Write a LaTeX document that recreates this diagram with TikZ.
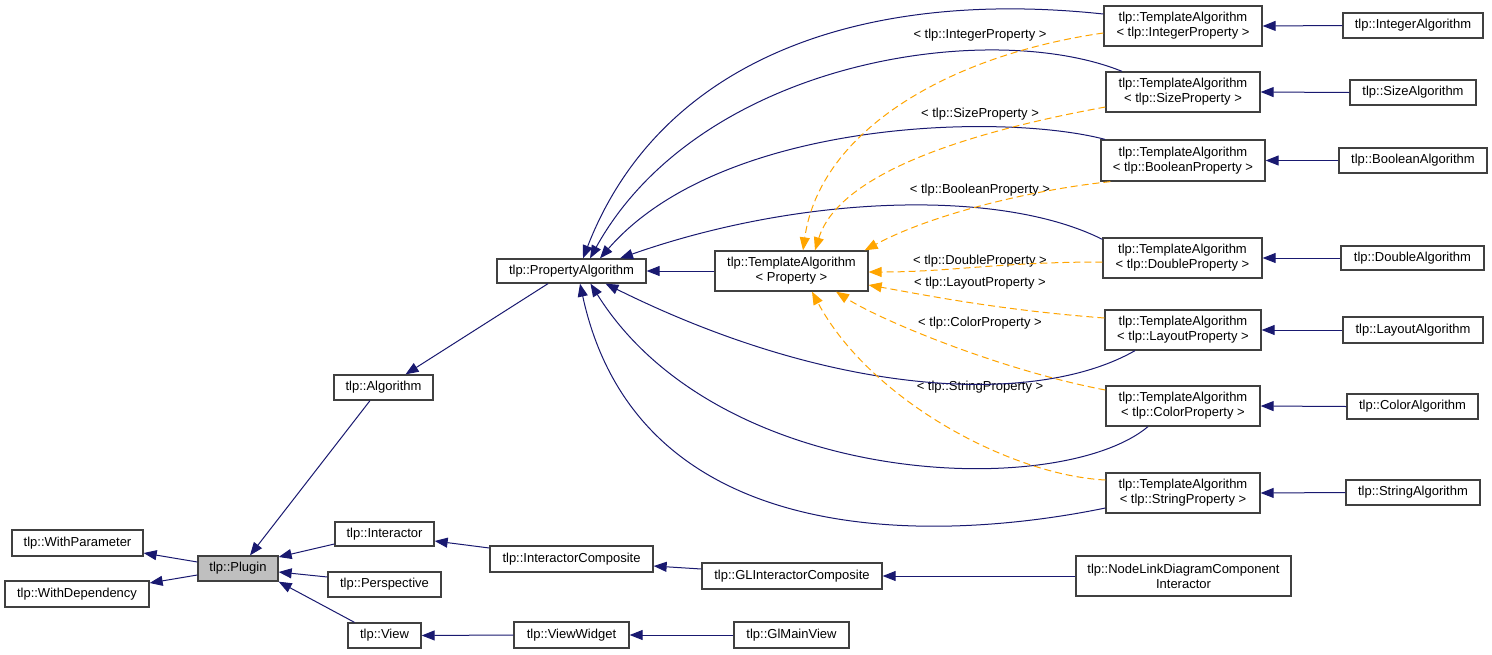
\documentclass[tikz,border=0pt]{standalone}
\usepackage{fontspec}
\setmainfont{Liberation Sans}
\usetikzlibrary{arrows.meta,calc}
\definecolor{edgeblue}{HTML}{191970}
\definecolor{edgeorange}{HTML}{FFA500}
\definecolor{plugingray}{HTML}{BFBFBF}
\definecolor{boxline}{HTML}{404040}
\begin{document}
\begin{tikzpicture}[x=1pt,y=-1pt,
  font=\fontsize{13}{15}\selectfont,
  box/.style={draw=boxline, line width=1.3pt, rectangle, inner sep=0pt, align=center, fill=white},
  lbl/.style={inner sep=0pt, align=center},
  inh/.style={draw=edgeblue, line width=1pt, -{Triangle[length=13pt,width=10pt]}},
  tpl/.style={draw=edgeorange, line width=1pt, dash pattern=on 7pt off 4pt, -{Triangle[length=13pt,width=10pt]}}]
\useasboundingbox (0,0) rectangle (1492,654);
\fill[white] (0,0) rectangle (1492,654);
% nodes
\node[box, minimum width=131pt, minimum height=26pt] (wp) at (77.5,543) {tlp::WithParameter};
\node[box, minimum width=144pt, minimum height=26pt] (wd) at (77,594) {tlp::WithDependency};
\node[box, fill=plugingray, minimum width=80pt, minimum height=25pt] (plugin) at (238,568.5) {tlp::Plugin};
\node[box, minimum width=99pt, minimum height=24pt] (inter) at (384.5,534) {tlp::Interactor};
\node[box, minimum width=113pt, minimum height=25pt] (persp) at (384.5,584.5) {tlp::Perspective};
\node[box, minimum width=73pt, minimum height=25pt] (view) at (384.5,635.5) {tlp::View};
\node[box, minimum width=99pt, minimum height=25pt] (algo) at (383.5,387.5) {tlp::Algorithm};
\node[box, minimum width=149pt, minimum height=24pt] (pa) at (571.5,271) {tlp::PropertyAlgorithm};
\node[box, minimum width=153pt, minimum height=40pt] (tap) at (791.5,271) {tlp::TemplateAlgorithm\\< Property >};
\node[box, minimum width=158pt, minimum height=40pt] (tai) at (1183,26) {tlp::TemplateAlgorithm\\< tlp::IntegerProperty >};
\node[box, minimum width=140pt, minimum height=25pt] (ia) at (1413,25.5) {tlp::IntegerAlgorithm};
\node[box, minimum width=154pt, minimum height=40pt] (tas) at (1183,92) {tlp::TemplateAlgorithm\\< tlp::SizeProperty >};
\node[box, minimum width=126pt, minimum height=25pt] (sa) at (1413,92.5) {tlp::SizeAlgorithm};
\node[box, minimum width=164pt, minimum height=41pt] (tab) at (1183,160.5) {tlp::TemplateAlgorithm\\< tlp::BooleanProperty >};
\node[box, minimum width=148pt, minimum height=25pt] (ba) at (1413,160.5) {tlp::BooleanAlgorithm};
\node[box, minimum width=159pt, minimum height=40pt] (tad) at (1182.5,258) {tlp::TemplateAlgorithm\\< tlp::DoubleProperty >};
\node[box, minimum width=143pt, minimum height=24pt] (da) at (1412.5,258) {tlp::DoubleAlgorithm};
\node[box, minimum width=156pt, minimum height=40pt] (tal) at (1183,330) {tlp::TemplateAlgorithm\\< tlp::LayoutProperty >};
\node[box, minimum width=140pt, minimum height=26pt] (la) at (1413,330) {tlp::LayoutAlgorithm};
\node[box, minimum width=154pt, minimum height=40pt] (tac) at (1183,406) {tlp::TemplateAlgorithm\\< tlp::ColorProperty >};
\node[box, minimum width=131pt, minimum height=25pt] (ca) at (1412.5,406.5) {tlp::ColorAlgorithm};
\node[box, minimum width=154pt, minimum height=40pt] (tast) at (1183,493) {tlp::TemplateAlgorithm\\< tlp::StringProperty >};
\node[box, minimum width=134pt, minimum height=25pt] (sta) at (1413,492.5) {tlp::StringAlgorithm};
\node[box, minimum width=163pt, minimum height=26pt] (ic) at (571.5,559) {tlp::InteractorComposite};
\node[box, minimum width=180pt, minimum height=26pt] (glic) at (792,576) {tlp::GLInteractorComposite};
\node[box, minimum width=115pt, minimum height=26pt] (vw) at (571.5,635) {tlp::ViewWidget};
\node[box, minimum width=115pt, minimum height=26pt] (gmv) at (791.5,635) {tlp::GlMainView};
\node[box, minimum width=215pt, minimum height=40pt] (nl) at (1183.5,576) {tlp::NodeLinkDiagramComponent\\Interactor};
% labels
\node[lbl] (lint) at (980,35) {< tlp::IntegerProperty >};
\node[lbl] (lsize) at (980,114) {< tlp::SizeProperty >};
\node[lbl] (lbool) at (980,190) {< tlp::BooleanProperty >};
\node[lbl] (ldbl) at (980,261) {< tlp::DoubleProperty >};
\node[lbl] (llay) at (980,283) {< tlp::LayoutProperty >};
\node[lbl] (lcol) at (980,323) {< tlp::ColorProperty >};
\node[lbl] (lstr) at (980,387) {< tlp::StringProperty >};
% blue curves TA<X> -> PropertyAlgorithm
\draw[inh] ([yshift=12pt]tai.west) .. controls (860,-12) and (660,60) .. ([xshift=11.5pt]pa.north);
\draw[inh] ([xshift=-61pt]tas.north) .. controls (990,18) and (700,60) .. ([xshift=18.5pt]pa.north);
\draw[inh] ([xshift=-78pt]tab.north) .. controls (1000,112) and (720,120) .. ([xshift=28.5pt]pa.north);
\draw[inh] ([yshift=-2pt]tad.north west) .. controls (1000,188) and (800,195) .. ([xshift=48.5pt]pa.north);
\draw[inh] ([xshift=-48pt]tal.south) .. controls (1040,405) and (840,400) .. ([xshift=34pt]pa.south);
\draw[inh] ([xshift=-35pt]tac.south) .. controls (1060,500) and (720,490) .. ([xshift=19pt]pa.south);
\draw[inh] ([yshift=-15pt]tast.west) .. controls (950,540) and (640,560) .. ([xshift=8.5pt]pa.south);
% orange dashed TA<X> -> TA<Property>
\draw[tpl] ([yshift=-7pt]tai.west) .. controls (950,55) and (820,130) .. ([xshift=11.5pt]tap.north);
\draw[tpl] ([yshift=-15pt]tas.west) .. controls (980,130) and (840,170) .. ([xshift=23.5pt]tap.north);
\draw[tpl] ([xshift=10pt]tab.south west) .. controls (1030,190) and (930,215) .. ([xshift=-4pt]tap.north east);
\draw[tpl] ([yshift=-4pt]tad.west) .. controls (1000,262) and (950,272) .. ([yshift=-1pt]tap.east);
\draw[tpl] ([yshift=12pt]tal.west) .. controls (1000,310) and (930,296) .. ([yshift=-14pt]tap.east);
\draw[tpl] ([yshift=16pt]tac.west) .. controls (1000,370) and (880,320) .. ([xshift=44.5pt]tap.south);
\draw[tpl] ([yshift=13pt]tast.west) .. controls (1010,475) and (870,400) .. ([xshift=20.5pt]tap.south);
% straight edges
\draw[inh] (tap.west) -- (pa.east);
\draw[inh] ([xshift=-23.5pt]pa.south) -- ([xshift=22pt]algo.north);
\draw[inh] ([xshift=-13.5pt]algo.south) -- ([xshift=12pt]plugin.north);
\draw[inh] ([yshift=6.5pt]plugin.west) -- ([yshift=-10pt]wp.east);
\draw[inh] ([yshift=-6.5pt]plugin.west) -- ([yshift=11pt]wd.east);
\draw[inh] ([yshift=-10pt]inter.west) -- ([yshift=11.5pt]plugin.east);
\draw[inh] ([yshift=7.5pt]persp.west) -- ([yshift=-3.5pt]plugin.east);
\draw[inh] ([xshift=-30pt]view.north) -- (plugin.south east);
\draw[inh] ([yshift=11pt]ic.west) -- ([yshift=-7pt]inter.east);
\draw[inh] ([yshift=7pt]glic.west) -- ([yshift=-7pt]ic.east);
\draw[inh] (nl.west) -- (glic.east);
\draw[inh] (vw.west) -- (view.east);
\draw[inh] (gmv.west) -- (vw.east);
\draw[inh] (ia.west) -- (tai.east);
\draw[inh] (sa.west) -- (tas.east);
\draw[inh] (ba.west) -- (tab.east);
\draw[inh] (da.west) -- (tad.east);
\draw[inh] (la.west) -- (tal.east);
\draw[inh] (ca.west) -- (tac.east);
\draw[inh] (sta.west) -- (tast.east);
\end{tikzpicture}
\end{document}
